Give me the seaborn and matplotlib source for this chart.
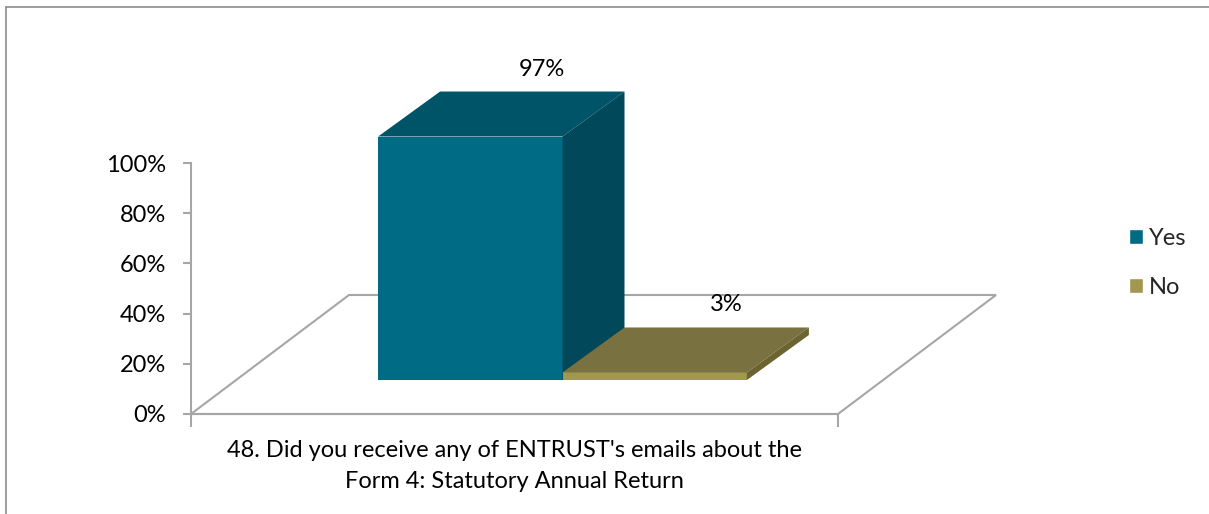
import textwrap

import matplotlib
matplotlib.use("Agg")
import matplotlib.pyplot as plt
import numpy as np
import pandas as pd
import seaborn as sns
from matplotlib.lines import Line2D
from matplotlib.patches import Polygon
from matplotlib.ticker import FuncFormatter
from matplotlib.transforms import offset_copy

# ---- data -------------------------------------------------------------
question = ("48. Did you receive any of ENTRUST's emails about the "
            "Form 4: Statutory Annual Return")
answers = ["Yes", "No"]
shares = [97, 3]
y_ticks = [0, 20, 40, 60, 80, 100]

# face colours for the pseudo-3D columns
front_colors = {"Yes": "#006B84", "No": "#A2974F"}
top_colors = {"Yes": "#005467", "No": "#7A7140"}
side_colors = {"Yes": "#00485A", "No": "#6B6430"}
grid_gray = "#A6A6A6"

sns.set_theme(style="white")
plt.rcParams["font.family"] = ["Lato", "DejaVu Sans"]
FS = 17

W, H = 1209, 514
fig = plt.figure(figsize=(W / 100, H / 100), dpi=100)


def px_rect(left, top, right, bottom):
    return [left / W, 1 - bottom / H, (right - left) / W, (bottom - top) / H]


ax = fig.add_axes(px_rect(191, 163, 838, 414))
ax.patch.set_alpha(0)

df = pd.DataFrame({"question": [question] * len(answers),
                   "answer": answers,
                   "share": shares})

sns.barplot(data=df, x="question", y="share", hue="answer",
            hue_order=answers, palette=front_colors, saturation=1,
            width=0.57, errorbar=None, ax=ax)

ax.set_xlim(-0.5, 0.5)
ax.set_ylim(0, 100)

# pixel -> data conversion for depth offsets
inv = ax.transData.inverted()
origin = ax.transData.transform((0, 0))


def px_to_data(dx, dy):
    x, y = inv.transform(origin + np.array([dx, dy]))
    return x, y


# floor of the 3D plot area
fx, fy = px_to_data(158, 119)
floor = Polygon([(-0.5, 0), (0.5, 0), (0.5 + fx, fy), (-0.5 + fx, fy)],
                closed=True, fill=False, edgecolor=grid_gray, lw=1.5,
                zorder=0.5, clip_on=False)
ax.add_patch(floor)

# columns sit part-way back on the floor; give each a top and a side face
shift = offset_copy(ax.transData, fig=fig, x=48, y=34, units="dots")
label_tr = offset_copy(ax.transData, fig=fig, x=48 + 10, y=34 + 12,
                       units="dots")
ddx, ddy = px_to_data(62, 45)

for i, (patch, ans) in enumerate(zip(ax.patches[:len(answers)], answers)):
    z = 2 + i
    patch.set_transform(shift)
    patch.set_clip_on(False)
    patch.set_zorder(z)
    patch.set_edgecolor("none")
    x0 = patch.get_x()
    x1 = x0 + patch.get_width()
    h = patch.get_height()
    top = Polygon([(x0, h), (x1, h), (x1 + ddx, h + ddy), (x0 + ddx, h + ddy)],
                  closed=True, facecolor=top_colors[ans], edgecolor="none",
                  transform=shift, clip_on=False, zorder=z)
    side = Polygon([(x1, 0), (x1, h), (x1 + ddx, h + ddy), (x1 + ddx, ddy)],
                   closed=True, facecolor=side_colors[ans], edgecolor="none",
                   transform=shift, clip_on=False, zorder=z)
    ax.add_patch(top)
    ax.add_patch(side)
    ax.text((x0 + x1) / 2 + ddx, h + ddy, f"{h:.0f}%", transform=label_tr,
            ha="center", va="bottom", fontsize=FS, color="black",
            zorder=10, clip_on=False)

# axes styling
ax.set_xlabel("")
ax.set_ylabel("")
ax.set_yticks(y_ticks)
ax.yaxis.set_major_formatter(FuncFormatter(lambda v, _: f"{v:.0f}%"))
ax.set_xticks([0])
ax.set_xticklabels([textwrap.fill(question, 54)], linespacing=1.55)
ax.set_xticks([-0.5, 0.5], minor=True)

for side_name in ("top", "right"):
    ax.spines[side_name].set_visible(False)
for side_name in ("left", "bottom"):
    ax.spines[side_name].set_color(grid_gray)
    ax.spines[side_name].set_linewidth(1.5)

ax.tick_params(axis="y", which="major", direction="out", length=6, width=1.5,
               color=grid_gray, pad=12, labelsize=FS, labelcolor="black",
               left=True)
ax.tick_params(axis="x", which="major", length=0, pad=19, labelsize=FS,
               labelcolor="black")
ax.tick_params(axis="x", which="minor", direction="out", length=9, width=1.5,
               color=grid_gray, bottom=True)
ax.grid(False)

# legend on the right
sns.move_legend(ax, "center left",
                bbox_to_anchor=(1108 / W, 1 - 263 / H),
                bbox_transform=fig.transFigure, frameon=False, title=None,
                fontsize=FS, handlelength=0.6, handleheight=0.6,
                handletextpad=0.25, labelspacing=1.2)

# chart frame (left and top edges)
frame_kw = dict(transform=fig.transFigure, color="#8C8C8C", lw=1.2)
fig.add_artist(Line2D([6 / W, 6 / W], [0, 1 - 7 / H], **frame_kw))
fig.add_artist(Line2D([6 / W, 1], [1 - 7 / H, 1 - 7 / H], **frame_kw))

fig.savefig("out.png", dpi=100)
